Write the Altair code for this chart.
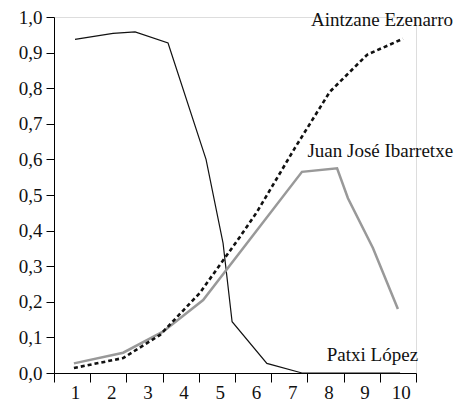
import altair as alt
import pandas as pd

# Series (x in round units, y as share)
lopez_x = [1.08, 2.13, 2.74, 3.65, 4.70, 5.17, 5.42, 6.38, 7.35, 10.06]
lopez_y = [0.937, 0.954, 0.958, 0.927, 0.600, 0.365, 0.144, 0.027, 0.0, 0.0]

ibarretxe_x = [1.05, 2.41, 3.51, 4.62, 7.35, 8.32, 8.62, 9.31, 10.0]
ibarretxe_y = [0.027, 0.057, 0.116, 0.205, 0.565, 0.575, 0.491, 0.351, 0.18]

ezenarro_x = [1.05, 2.41, 3.43, 4.53, 5.64, 6.11, 7.16, 8.12, 9.15, 10.14]
ezenarro_y = [0.014, 0.042, 0.107, 0.225, 0.383, 0.453, 0.633, 0.79, 0.894, 0.939]

names = ["Patxi López", "Juan José Ibarretxe", "Aintzane Ezenarro"]
x_tick_labels = ["1", "2", "3", "4", "5", "6", "7", "8", "9", "10"]
y_ticks = [0.0, 0.1, 0.2, 0.3, 0.4, 0.5, 0.6, 0.7, 0.8, 0.9, 1.0]

rows = []
for name, xs, ys in zip(names, [lopez_x, ibarretxe_x, ezenarro_x],
                        [lopez_y, ibarretxe_y, ezenarro_y]):
    for i, (x, y) in enumerate(zip(xs, ys)):
        rows.append({"name": name, "x": x, "y": y, "order": i})
df = pd.DataFrame(rows)

# label anchors: last point for López/Ezenarro, peak for Ibarretxe
anchors = pd.DataFrame([
    {"name": names[0], "x": lopez_x[-1], "y": lopez_y[-1]},
    {"name": names[1], "x": ibarretxe_x[5], "y": ibarretxe_y[5]},
    {"name": names[2], "x": ezenarro_x[-1], "y": ezenarro_y[-1]},
])

FONT = "Liberation Serif"
n = len(x_tick_labels)
x_tick_vals = [i + 0.5 for i in range(n + 1)]
x_scale = alt.Scale(domain=[0.5, n + 0.5], nice=False, zero=False)
y_scale = alt.Scale(domain=[0, 1], nice=False, zero=False)

label_expr = "datum.value > %d ? '' : format(datum.value + 0.5, 'd')" % n

x_axis = alt.Axis(values=x_tick_vals, labelExpr=label_expr, title=None,
                  tickSize=9, labelOffset=21, labelPadding=1, grid=False,
                  domainColor="black", tickColor="black", labelColor="#111",
                  labelFont=FONT, labelFontSize=19, labelAlign="center",
                  labelFlush=False, labelOverlap=False)
y_axis = alt.Axis(values=y_ticks,
                  labelExpr="replace(format(datum.value, '.1f'), '.', ',')",
                  title=None, tickSize=8, labelPadding=4, grid=False,
                  domainColor="black", tickColor="black", labelColor="#111",
                  labelFont=FONT, labelFontSize=19, labelOverlap=False,
                  labelFlush=False)

X = alt.X("x:Q", scale=x_scale, axis=x_axis)
Y = alt.Y("y:Q", scale=y_scale, axis=y_axis)

base = alt.Chart(df)

lopez = base.transform_filter(alt.datum.name == names[0]).mark_line(
    color="#111", strokeWidth=1.2).encode(x=X, y=Y, order="order:Q")

ibarretxe = base.transform_filter(alt.datum.name == names[1]).mark_line(
    color="#999999", strokeWidth=2.5).encode(x=X, y=Y, order="order:Q")

ezenarro = base.transform_filter(alt.datum.name == names[2]).mark_line(
    color="#111", strokeWidth=2.6, strokeDash=[4, 3]).encode(
    x=X, y=Y, order="order:Q")

lab = alt.Chart(anchors)
def label(i, dx, dy):
    return lab.transform_filter(alt.datum.name == names[i]).mark_text(
        align="right", baseline="middle", dx=dx, dy=dy, font=FONT,
        fontSize=19, color="#111").encode(x=X, y=Y, text="name:N")

chart = alt.layer(
    lopez, ibarretxe, ezenarro,
    label(0, 18, -18), label(1, 116, -17), label(2, 50, -19),
).properties(
    width=362, height=356,
    padding={"left": 46, "top": 9, "right": 39, "bottom": 28},
    autosize=alt.AutoSizeParams(type="none"),
).configure_view(strokeWidth=0).configure(background="white")

chart.save("out.html", embed_options={"renderer": "svg", "actions": False})
